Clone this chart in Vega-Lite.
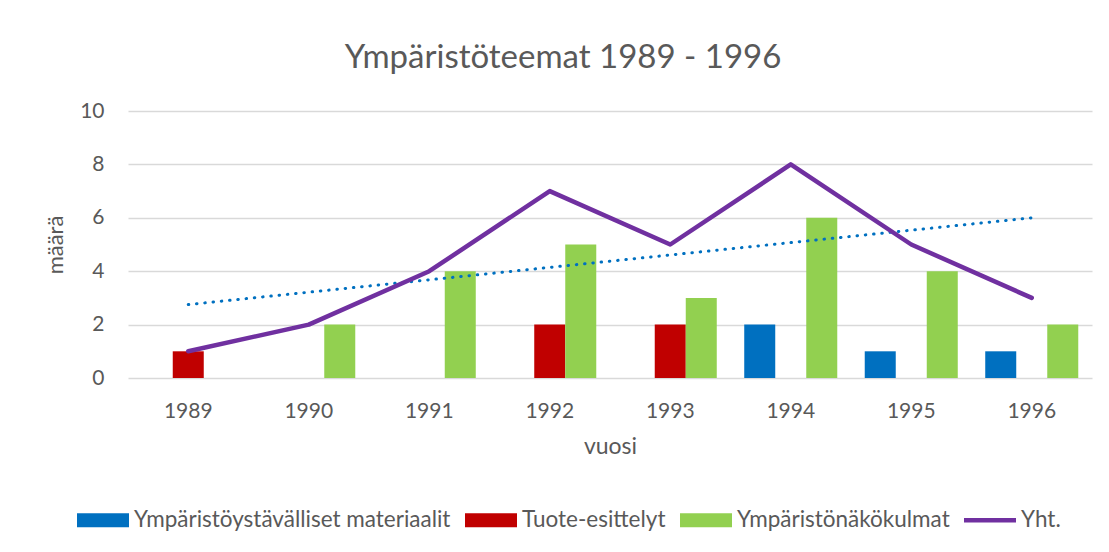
{
  "$schema": "https://vega.github.io/schema/vega-lite/v6.json",
  "width": 964,
  "height": 267,
  "autosize": {"type": "none"},
  "padding": {"left": 128, "top": 111, "right": 17, "bottom": 174},
  "background": "white",
  "title": {"text": "Ympäristöteemat 1989 - 1996", "font": "Lato", "fontSize": 33, "fontWeight": "normal", "color": "#595959", "dx": -47, "offset": 25},
  "config": {"view": {"stroke": null}, "font": "Lato"},
  "datasets": {
    "bars": [
      {"vuosi": "1989", "sarja": "Tuote-esittelyt", "maara": 1},
      {"vuosi": "1990", "sarja": "Ympäristönäkökulmat", "maara": 2},
      {"vuosi": "1991", "sarja": "Ympäristönäkökulmat", "maara": 4},
      {"vuosi": "1992", "sarja": "Tuote-esittelyt", "maara": 2},
      {"vuosi": "1992", "sarja": "Ympäristönäkökulmat", "maara": 5},
      {"vuosi": "1993", "sarja": "Tuote-esittelyt", "maara": 2},
      {"vuosi": "1993", "sarja": "Ympäristönäkökulmat", "maara": 3},
      {"vuosi": "1994", "sarja": "Ympäristöystävälliset materiaalit", "maara": 2},
      {"vuosi": "1994", "sarja": "Ympäristönäkökulmat", "maara": 6},
      {"vuosi": "1995", "sarja": "Ympäristöystävälliset materiaalit", "maara": 1},
      {"vuosi": "1995", "sarja": "Ympäristönäkökulmat", "maara": 4},
      {"vuosi": "1996", "sarja": "Ympäristöystävälliset materiaalit", "maara": 1},
      {"vuosi": "1996", "sarja": "Ympäristönäkökulmat", "maara": 2}
    ],
    "total": [
      {"vuosi": "1989", "sarja": "Yht.", "maara": 1},
      {"vuosi": "1990", "sarja": "Yht.", "maara": 2},
      {"vuosi": "1991", "sarja": "Yht.", "maara": 4},
      {"vuosi": "1992", "sarja": "Yht.", "maara": 7},
      {"vuosi": "1993", "sarja": "Yht.", "maara": 5},
      {"vuosi": "1994", "sarja": "Yht.", "maara": 8},
      {"vuosi": "1995", "sarja": "Yht.", "maara": 5},
      {"vuosi": "1996", "sarja": "Yht.", "maara": 3}
    ],
    "trend": [
      {"vuosi": "1989", "maara": 2.75},
      {"vuosi": "1996", "maara": 6.0}
    ]
  },
  "encoding": {
    "x": {
      "field": "vuosi", "type": "nominal",
      "scale": {"domain": ["1989","1990","1991","1992","1993","1994","1995","1996"], "paddingInner": 0.228, "paddingOuter": 0.114},
      "axis": {"title": "vuosi", "labelAngle": 0, "domain": false, "ticks": false, "grid": false, "labelPadding": 22, "labelFont": "Lato", "labelFontSize": 21, "labelColor": "#595959", "titleFont": "Lato", "titleFontSize": 23, "titleFontWeight": "normal", "titleColor": "#595959", "titlePadding": 14}
    },
    "y": {
      "field": "maara", "type": "quantitative",
      "scale": {"domain": [0, 10], "nice": false},
      "axis": {"title": "määrä", "values": [0,2,4,6,8,10], "grid": true, "gridColor": "#d9d9d9", "gridWidth": 1.5, "domain": false, "ticks": false, "labelPadding": 24, "labelFont": "Lato", "labelFontSize": 21, "labelColor": "#595959", "titleFont": "Lato", "titleFontSize": 22, "titleFontWeight": "normal", "titleColor": "#595959", "titlePadding": 12}
    }
  },
  "layer": [
    {
      "data": {"name": "bars"},
      "mark": {"type": "bar"},
      "encoding": {
        "xOffset": {"field": "sarja", "type": "nominal", "scale": {"domain": ["Ympäristöystävälliset materiaalit", "Tuote-esittelyt", "Ympäristönäkökulmat"], "paddingInner": 0, "paddingOuter": 0}},
        "color": {
          "field": "sarja", "type": "nominal",
          "scale": {"domain": ["Ympäristöystävälliset materiaalit", "Tuote-esittelyt", "Ympäristönäkökulmat", "Yht."], "range": ["#0070C0", "#C00000", "#92D050", "#7030A0"]},
          "legend": {
            "orient": "none", "legendX": -51, "legendY": 383, "direction": "horizontal", "title": null,
            "labelFont": "Lato", "labelFontSize": 22.5, "labelColor": "#595959", "labelLimit": 0,
            "symbolType": "M-1,-0.27H1V0.27H-1Z", "symbolSize": 2704,
            "columnPadding": 14, "labelOffset": 5,
            "encode": {
              "symbols": {
                "update": {
                  "shape": [{"test": "datum.value === 'Yht.'", "value": "M-1,-0.09H1V0.09H-1Z"}, {"value": "M-1,-0.27H1V0.27H-1Z"}],
                  "fill": {"scale": "color", "field": "value"},
                  "stroke": {"value": "transparent"},
                  "strokeWidth": {"value": 0},
                  "opacity": {"value": 1}
                }
              }
            }
          }
        }
      }
    },
    {
      "data": {"name": "trend"},
      "mark": {"type": "line", "color": "#0070C0", "strokeWidth": 3, "strokeDash": [0.5, 7.8], "strokeCap": "round"},
      "encoding": {}
    },
    {
      "data": {"name": "total"},
      "mark": {"type": "line", "strokeWidth": 4.5, "strokeCap": "round", "strokeJoin": "round"},
      "encoding": {
        "color": {"field": "sarja", "type": "nominal"}
      }
    }
  ]
}
